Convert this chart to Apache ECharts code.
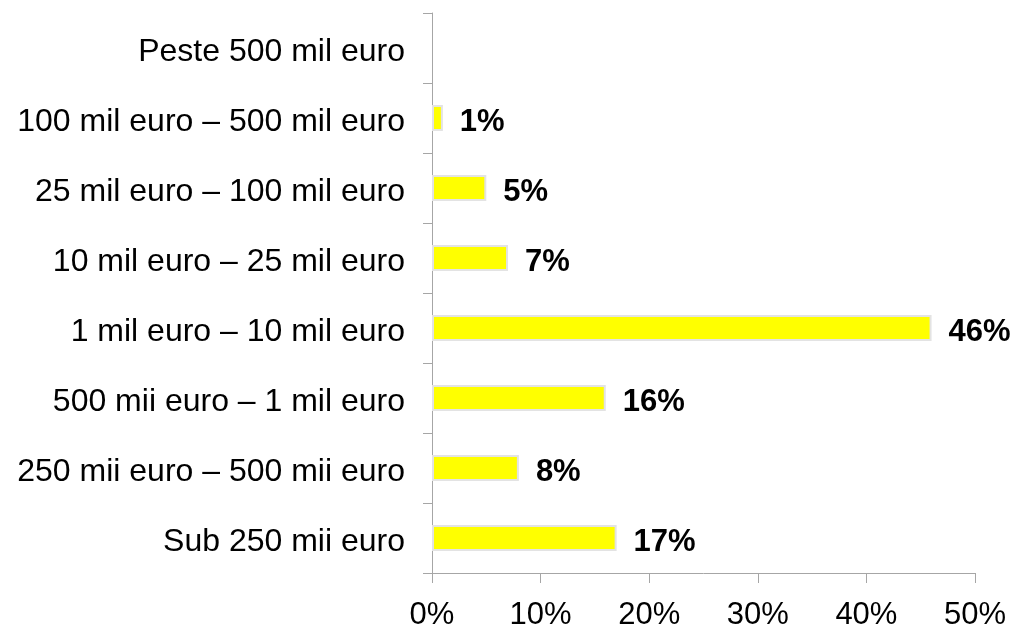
<!DOCTYPE html>
<html>
<head>
<meta charset="utf-8">
<script src="https://cdn.jsdelivr.net/npm/echarts@6/dist/echarts.min.js"></script>
<style>
  html, body { margin: 0; padding: 0; background: #fff; }
  #chart { width: 1015px; height: 625px; }
</style>
</head>
<body>
<div id="chart"></div>
<script>
// categories from bottom to top
var categories = [
  'Sub 250 mii euro',
  '250 mii euro – 500 mii euro',
  '500 mii euro – 1 mil euro',
  '1 mil euro – 10 mil euro',
  '10 mil euro – 25 mil euro',
  '25 mil euro – 100 mil euro',
  '100 mil euro – 500 mil euro',
  'Peste 500 mil euro'
];
var shares = [17, 8, 16, 46, 7, 5, 1, 0];
var xTicks = [0, 10, 20, 30, 40, 50];

var font = 'Liberation Sans, Arial, sans-serif';
var myChart = echarts.init(document.getElementById('chart'));
var option = {
  animation: false,
  grid: { left: 432, right: 40, top: 13, bottom: 52, containLabel: false, outerBoundsMode: 'none' },
  xAxis: {
    type: 'value',
    min: xTicks[0],
    max: xTicks[xTicks.length - 1],
    interval: 10,
    splitLine: { show: false },
    axisLine: { show: true, lineStyle: { color: '#a6a6a6', width: 1 } },
    axisTick: { show: true, length: 10, lineStyle: { color: '#a6a6a6' } },
    axisLabel: {
      color: '#000', fontFamily: font, fontSize: 31, margin: 27,
      formatter: function (v) { return v + '%'; }
    }
  },
  yAxis: {
    type: 'category',
    data: categories,
    axisLine: { show: true, lineStyle: { color: '#a6a6a6', width: 1 } },
    axisTick: { show: true, length: 9, alignWithLabel: false, lineStyle: { color: '#a6a6a6' } },
    axisLabel: {
      margin: 27,
      formatter: function (v) { return '{c|' + v + '}'; },
      rich: { c: { color: '#000', fontFamily: font, fontSize: 32, padding: [9, 0, 0, 0] } }
    }
  },
  series: [{
    type: 'bar',
    // a zero share draws no bar at all
    data: shares.map(function (v) { return v === 0 ? '-' : v; }),
    barWidth: 26,
    itemStyle: { color: '#ffff00', borderColor: '#e3e3e3', borderWidth: 2 },
    label: {
      show: true,
      position: 'right',
      distance: 17,
      offset: [0, 4],
      color: '#000',
      fontFamily: font,
      fontSize: 31,
      fontWeight: 'bold',
      formatter: function (p) { return p.value + '%'; }
    }
  }]
};
myChart.setOption(option, true);
</script>
</body>
</html>
